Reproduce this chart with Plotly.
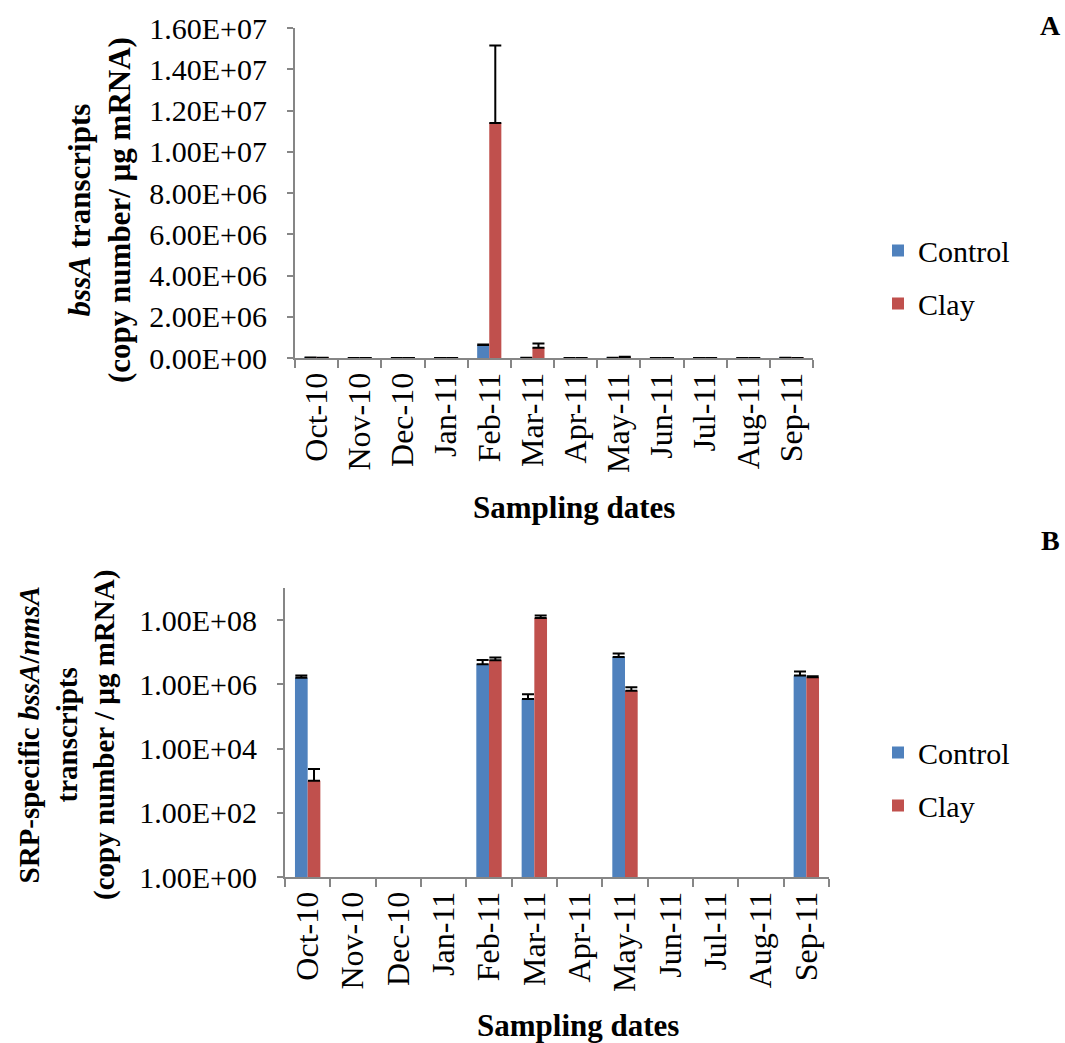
import plotly.graph_objects as go

W, H = 1065, 1043

categories = ["Oct-10", "Nov-10", "Dec-10", "Jan-11", "Feb-11", "Mar-11",
              "Apr-11", "May-11", "Jun-11", "Jul-11", "Aug-11", "Sep-11"]

# Panel A: bssA transcripts (linear)
a_control = [2e4, 0, 0, 0, 6.3e5, 1e4, 0, 1.2e4, 0, 0, 0, 1.5e4]
a_control_err = [0, 0, 0, 0, 3e4, 0, 0, 0, 0, 0, 0, 0]
a_clay = [1e4, 0, 0, 0, 1.14e7, 5.0e5, 0, 3e4, 0, 0, 0, 5e3]
a_clay_err = [0, 0, 0, 0, 3.75e6, 2e5, 0, 3e4, 0, 0, 0, 0]

# Panel B: SRP-specific bssA/nmsA transcripts (log)
b_control = [1.6e6, None, None, None, 4.2e6, 3.5e5, None, 7.1e6, None, None, None, 1.9e6]
b_control_err = [3e5, 0, 0, 0, 1.5e6, 1.4e5, 0, 2.0e6, 0, 0, 0, 6e5]
b_clay = [1.0e3, None, None, None, 5.6e6, 1.17e8, None, 6.3e5, None, None, None, 1.66e6]
b_clay_err = [1.3e3, 0, 0, 0, 1.2e6, 2.3e7, 0, 1.8e5, 0, 0, 0, 1.4e5]

a_yticks = [0, 2e6, 4e6, 6e6, 8e6, 1e7, 1.2e7, 1.4e7, 1.6e7]
a_yticktext = ["0.00E+00", "2.00E+06", "4.00E+06", "6.00E+06", "8.00E+06",
               "1.00E+07", "1.20E+07", "1.40E+07", "1.60E+07"]
b_yticks = [1, 1e2, 1e4, 1e6, 1e8]
b_yticktext = ["1.00E+00", "1.00E+02", "1.00E+04", "1.00E+06", "1.00E+08"]

BLUE = "#4F81BD"
RED = "#C0504D"
AXIS = "#868686"
FONT = "Liberation Serif"


def px_x(p):
    return p / W


def px_y(p):
    return 1 - p / H


def err(vals):
    return dict(type="data", array=vals, arrayminus=[0] * len(vals), symmetric=False,
                color="black", thickness=2, width=6)


fig = go.Figure()
fig.add_trace(go.Bar(x=categories, y=a_control, name="Control", marker_color=BLUE,
                     error_y=err(a_control_err), xaxis="x", yaxis="y",
                     legend="legend", legendgroup="a1"))
fig.add_trace(go.Bar(x=categories, y=a_clay, name="Clay", marker_color=RED,
                     error_y=err(a_clay_err), xaxis="x", yaxis="y",
                     legend="legend", legendgroup="a2"))
fig.add_trace(go.Bar(x=categories, y=b_control, name="Control", marker_color=BLUE,
                     error_y=err(b_control_err), xaxis="x2", yaxis="y2",
                     legend="legend2", legendgroup="b1"))
fig.add_trace(go.Bar(x=categories, y=b_clay, name="Clay", marker_color=RED,
                     error_y=err(b_clay_err), xaxis="x2", yaxis="y2",
                     legend="legend2", legendgroup="b2"))
fig.update_traces(marker_line_width=0)

common_x = dict(type="category", showline=True, linecolor=AXIS, linewidth=2,
                ticks="outside", tickson="boundaries", ticklen=8, tickcolor=AXIS,
                tickwidth=2, tickangle=-90,
                tickfont=dict(family=FONT, size=32, color="black"),
                showgrid=False, zeroline=False)
common_y = dict(showline=True, linecolor=AXIS, linewidth=2, ticks="outside",
                ticklen=6, tickcolor=AXIS, tickwidth=2, ticklabelstandoff=14,
                tickfont=dict(family=FONT, size=30, color="black"),
                showgrid=False, zeroline=False)

legend_style = dict(font=dict(family=FONT, size=30, color="black"),
                    traceorder="grouped", tracegroupgap=11, bgcolor="rgba(0,0,0,0)",
                    xanchor="left", yanchor="middle", itemwidth=30)

fig.update_layout(
    width=W, height=H,
    margin=dict(l=0, r=0, t=0, b=0, autoexpand=False),
    paper_bgcolor="white", plot_bgcolor="white",
    barmode="group", bargap=0.44, bargroupgap=0,
    xaxis=dict(common_x, domain=[px_x(295), px_x(813)], anchor="y"),
    yaxis=dict(common_y, domain=[px_y(358), px_y(28)], anchor="x",
               range=[0, 1.6e7], tickvals=a_yticks, ticktext=a_yticktext),
    xaxis2=dict(common_x, domain=[px_x(285), px_x(829)], anchor="y2"),
    yaxis2=dict(common_y, domain=[px_y(877), px_y(588)], anchor="x2", type="log",
                range=[0, 9], tickvals=b_yticks, ticktext=b_yticktext),
    legend=dict(legend_style, x=px_x(878), y=px_y(277)),
    legend2=dict(legend_style, x=px_x(878), y=px_y(779)),
    showlegend=True,
)

title_font = dict(family=FONT, size=31, color="black")
fig.add_annotation(text="<b><i>bssA</i> transcripts<br>(copy number/ µg mRNA)</b>",
                   xref="paper", yref="paper", x=px_x(100), y=px_y(210),
                   textangle=-90, showarrow=False, font=title_font,
                   xanchor="center", yanchor="middle")
fig.add_annotation(text="<b>SRP-specific <i>bssA</i>/<i>nmsA</i><br>transcripts<br>(copy number / µg mRNA)</b>",
                   xref="paper", yref="paper", x=px_x(67), y=px_y(735),
                   textangle=-90, showarrow=False, font=dict(title_font, size=29),
                   xanchor="center", yanchor="middle")
fig.add_annotation(text="<b>Sampling dates</b>", xref="paper", yref="paper",
                   x=px_x(574), y=px_y(507), showarrow=False, font=title_font,
                   xanchor="center", yanchor="middle")
fig.add_annotation(text="<b>Sampling dates</b>", xref="paper", yref="paper",
                   x=px_x(578), y=px_y(1025), showarrow=False, font=title_font,
                   xanchor="center", yanchor="middle")
fig.add_annotation(text="<b>A</b>", xref="paper", yref="paper",
                   x=px_x(1050), y=px_y(25), showarrow=False, font=dict(title_font, size=28),
                   xanchor="center", yanchor="middle")
fig.add_annotation(text="<b>B</b>", xref="paper", yref="paper",
                   x=px_x(1050), y=px_y(540), showarrow=False, font=dict(title_font, size=28),
                   xanchor="center", yanchor="middle")

fig.write_html("out.html")
